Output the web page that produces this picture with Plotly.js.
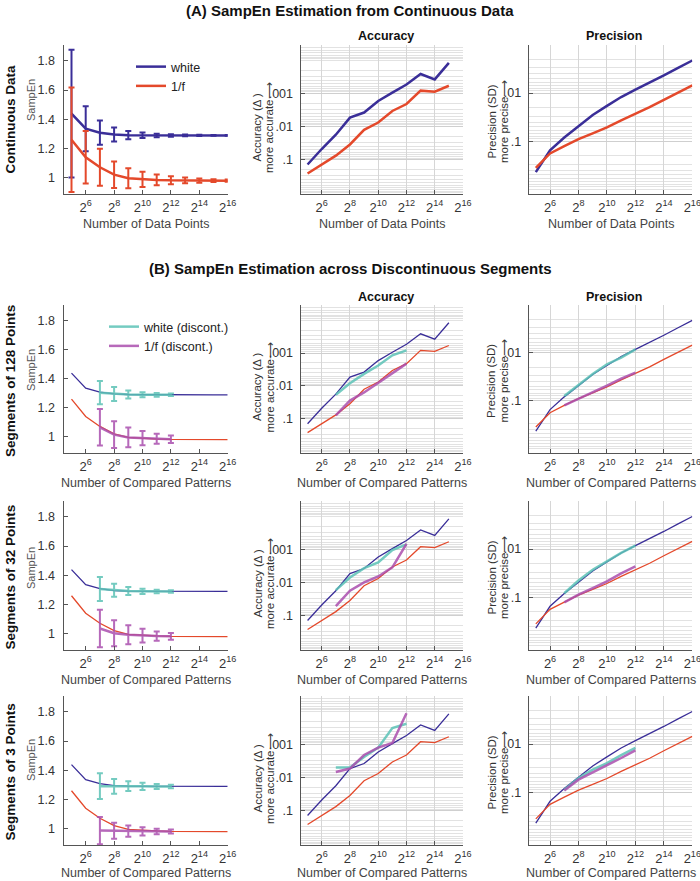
<!DOCTYPE html>
<html><head><meta charset="utf-8">
<script src="https://cdn.plot.ly/plotly-3.0.1.min.js"></script>
<style>body{margin:0;background:#fff}#chart{width:700px;height:881px}</style>
</head><body><div id="chart"></div><script>
// ---- data ----
const N = [32,64,128,256,512,1024,2048,4096,8192,16384,32768,65536];
const NAcc = [32,64,128,256,512,1024,2048,4096,8192,16384,32768];
const NSeg = [128,256,512,1024,2048,4096];
const tickN = [64,256,1024,4096,16384,65536];
const tickNText = ['2<sup>6</sup>','2<sup>8</sup>','2<sup>10</sup>','2<sup>12</sup>','2<sup>14</sup>','2<sup>16</sup>'];

const sampenWhite = [1.438,1.334,1.307,1.294,1.290,1.289,1.288,1.288,1.288,1.288,1.288,1.288];
const sampenPink  = [1.258,1.138,1.069,1.018,0.993,0.986,0.982,0.979,0.978,0.977,0.977,0.977];
const sdWhite = [0.44,0.155,0.084,0.048,0.0285,0.0185,0.0121,0.0085,0.0061,0.0043,0.0030,0.0021];
const sdPink  = [0.36,0.180,0.127,0.091,0.069,0.052,0.037,0.0275,0.0197,0.0138,0.0098,0.0069];
const accWhite = [0.141,0.048,0.0178,0.0054,0.0038,0.0017,0.00095,0.00054,0.00026,0.00038,0.00012];
const accPink  = [0.263,0.141,0.076,0.035,0.0126,0.0076,0.0034,0.0021,0.00083,0.00089,0.00059];

const seg128WhiteMean = [1.303,1.294,1.290,1.288,1.288,1.288];
const seg128PinkMean  = [1.063,1.012,0.993,0.988,0.984,0.981];
const seg128WhiteSD   = [0.081,0.048,0.028,0.0174,0.0126,0.0085];
const seg128PinkSD    = [0.126,0.093,0.068,0.049,0.035,0.026];
const seg128WhiteAcc  = [0.0186,0.0083,0.0043,0.0024,0.00117,0.00083];
const seg128PinkAcc   = [0.079,0.028,0.0158,0.0079,0.0042,0.0021];

const seg32WhiteMean = [1.305,1.296,1.291,1.289,1.288,1.288];
const seg32PinkMean  = [1.033,1.000,0.990,0.984,0.981,0.979];
const seg32WhiteSD   = [0.083,0.045,0.027,0.018,0.012,0.0085];
const seg32PinkSD    = [0.129,0.089,0.065,0.047,0.032,0.023];
const seg32WhiteAcc  = [0.017,0.0071,0.0037,0.0025,0.00105,0.00071];
const seg32PinkAcc   = [0.052,0.0178,0.010,0.0066,0.0035,0.00068];

const seg3WhiteMean = [1.290,1.288,1.290,1.289,1.288,1.288];
const seg3PinkMean  = [0.984,0.983,0.981,0.979,0.978,0.978];
const seg3WhiteSD   = [0.089,0.051,0.034,0.025,0.017,0.012];
const seg3PinkSD    = [0.093,0.055,0.039,0.028,0.0195,0.0135];
const seg3WhiteAcc  = [0.005,0.005,0.0024,0.00126,0.00032,0.00024];
const seg3PinkAcc   = [0.0068,0.0054,0.0021,0.00126,0.00091,0.000115];

const rowLabels = ['Continuous Data','Segments of 128 Points','Segments of 32 Points','Segments of 3 Points'];

// ---- style ----
const W = 700, H = 881;
const FONT = 'Liberation Sans, Arial, Helvetica, sans-serif';
const BLUE = '#3a2e98', RED = '#e4492b', CYAN = '#5cc2b6', MAG = '#aa4fae';
const colX = [[64.4,227.7],[300.5,463],[528.7,692.3]];
const rowY = [[45,194],[305,453],[501,650],[696,845]];
const L2 = Math.log10(2);

const layout = {
  width: W, height: H, margin: {l:0,r:0,t:0,b:0},
  paper_bgcolor: '#fff', plot_bgcolor: 'rgba(0,0,0,0)',
  font: {family: FONT, color: '#333'},
  annotations: [],
  legend: {x: 131/W, y: 1-52/H, xanchor:'left', yanchor:'top', bgcolor:'rgba(0,0,0,0)',
           font:{size:12.5, color:'#222', family: FONT}, tracegroupgap:0},
  legend2: {x: 104/W, y: 1-312/H, xanchor:'left', yanchor:'top', bgcolor:'rgba(0,0,0,0)',
           font:{size:12.5, color:'#222', family: FONT}, tracegroupgap:0}
};

const minorVals = [];
for (let e = -5; e <= 0; e++) for (let k = 2; k <= 9; k++) minorVals.push(k*Math.pow(10,e));
const accMinor = minorVals.concat([1e-4, 1]);
const precMinor = minorVals.concat([1e-3, 1]);

function ax(i){ return i===1 ? '' : String(i); }
function ann(text, px, py, size, color, angle) {
  layout.annotations.push({text:text, x:px/W, y:1-py/H, xref:'paper', yref:'paper', showarrow:false,
    textangle: angle||0, xanchor:'center', yanchor:'middle', font:{size:size, color:color, family:FONT}});
}

for (let r = 0; r < 4; r++) {
  for (let c = 0; c < 3; c++) {
    const i = r*3 + c + 1;
    const xd = [colX[c][0]/W, colX[c][1]/W];
    const yd = [1 - rowY[r][1]/H, 1 - rowY[r][0]/H];
    layout['xaxis'+ax(i)] = {
      domain: xd, anchor: 'y'+ax(i), type:'log', range:[4.5*L2, 16*L2],
      tickvals: tickN, ticktext: tickNText, ticks:'inside', ticklen:4, tickcolor:'#555',
      showline:true, linecolor:'#555', linewidth:1, zeroline:false,
      showgrid: c>0, gridcolor:'#d6d6d6', gridwidth:1, ticklabeloverflow:'allow',
      tickfont:{size:13, color:'#333', family: FONT}, ticklabelstandoff: 1
    };
    let ya = {
      domain: yd, anchor: 'x'+ax(i), ticks:'inside', ticklen:4, tickcolor:'#555',
      showline:true, linecolor:'#555', linewidth:1, zeroline:false,
      tickfont:{size:12.5, color:'#333', family: FONT}, ticklabelstandoff: 4
    };
    if (c === 0) {
      Object.assign(ya, {range:[0.885,1.91], tickvals:[1,1.2,1.4,1.6,1.8], ticktext:['1','1.2','1.4','1.6','1.8'], showgrid:false, ticklabelstandoff: 6});
    } else if (c === 1) {
      Object.assign(ya, {type:'log', range:[0.04,-4.46], tickvals:[1e-3,1e-2,1e-1], ticktext:['.001','.01','.1'],
        showgrid:true, gridcolor:'#cfcfcf', minor:{tickvals:accMinor, showgrid:true, gridcolor:'#e2e2e2', ticks:''}});
    } else {
      Object.assign(ya, {type:'log', range:[0.1,-3.0], tickvals:[1e-2,1e-1], ticktext:['.01','.1'],
        showgrid:true, gridcolor:'#cfcfcf', minor:{tickvals:precMinor, showgrid:true, gridcolor:'#e2e2e2', ticks:''}});
    }
    layout['yaxis'+ax(i)] = ya;

    ann(r===0 ? 'Number of Data Points' : 'Number of Compared Patterns',
        (colX[c][0]+colX[c][1])/2, Math.min(rowY[r][1]+30, 873), 12.5, '#444');
  }
  const mid = (rowY[r][0]+rowY[r][1])/2;
  ann('SampEn', 31, [100,370,568,760][r], 11, '#555', -90);
  ann('Accuracy (Δ )', 257, mid+8, 11.5, '#333', -90);
  ann('more accurate⟶', 269.5, mid+8, 11.5, '#333', -90);
  ann('Precision (SD)', 491, mid+2, 11.5, '#333', -90);
  ann('more precise⟶', 503.5, mid+2, 11.5, '#333', -90);
  ann('<b>'+rowLabels[r]+'</b>', 10, mid+(r===0?0:2), 13.5, '#111', -90);
}
[36,297].forEach(yy => {
  ann('<b>Accuracy</b>', 385.7, yy, 12.5, '#111');
  ann('<b>Precision</b>', 614, yy, 12.5, '#111');
});
ann('<b>(A) SampEn Estimation from Continuous Data</b>', 350, 10, 15, '#111');
ann('<b>(B) SampEn Estimation across Discontinuous Segments</b>', 350, 268, 15, '#111');

// ---- traces ----
const traces = [];
function line(i, x, y, color, width, extra) {
  const t = Object.assign({type:'scatter', mode:'lines', x:x, y:y, xaxis:'x'+ax(i), yaxis:'y'+ax(i),
    line:{color:color, width:width}, showlegend:false, hoverinfo:'skip'}, extra||{});
  traces.push(t);
}
function eb(arr, color, th) { return {type:'data', array:arr, visible:true, color:color, thickness:th, width:3}; }

// Row A
line(1, N, sampenWhite, BLUE, 2.5, {error_y: eb(sdWhite, BLUE, 2), name:'white', showlegend:true, legend:'legend'});
line(1, N, sampenPink, RED, 2.5, {error_y: eb(sdPink, RED, 2), name:'1/f', showlegend:true, legend:'legend'});
line(2, NAcc, accWhite, BLUE, 2.5);
line(2, NAcc, accPink, RED, 2.5);
line(3, N, sdWhite, BLUE, 2.5);
line(3, N, sdPink, RED, 2.5);

const segSets = [
  [seg128WhiteMean, seg128PinkMean, seg128WhiteSD, seg128PinkSD, seg128WhiteAcc, seg128PinkAcc],
  [seg32WhiteMean, seg32PinkMean, seg32WhiteSD, seg32PinkSD, seg32WhiteAcc, seg32PinkAcc],
  [seg3WhiteMean, seg3PinkMean, seg3WhiteSD, seg3PinkSD, seg3WhiteAcc, seg3PinkAcc]
];
segSets.forEach((s, k) => {
  const r = k+1, b = r*3;
  line(b+1, N, sampenWhite, BLUE, 1.3);
  line(b+1, N, sampenPink, RED, 1.3);
  const lg = (k===0);
  line(b+1, NSeg, s[0], CYAN, 2.5, {opacity:0.85, error_y: eb(s[2], CYAN, 2), name:'white (discont.)', showlegend:lg, legend:'legend2'});
  line(b+1, NSeg, s[1], MAG, 2.5, {opacity:0.85, error_y: eb(s[3], MAG, 2), name:'1/f (discont.)', showlegend:lg, legend:'legend2'});
  line(b+2, NAcc, accWhite, BLUE, 1.3);
  line(b+2, NAcc, accPink, RED, 1.3);
  line(b+2, NSeg, s[4], CYAN, 2.5, {opacity:0.85});
  line(b+2, NSeg, s[5], MAG, 2.5, {opacity:0.85});
  line(b+3, N, sdWhite, BLUE, 1.3);
  line(b+3, N, sdPink, RED, 1.3);
  line(b+3, NSeg, s[2], CYAN, 2.5, {opacity:0.85});
  line(b+3, NSeg, s[3], MAG, 2.5, {opacity:0.85});
});

Plotly.newPlot('chart', traces, layout, {staticPlot:true, displayModeBar:false});
</script></body></html>
